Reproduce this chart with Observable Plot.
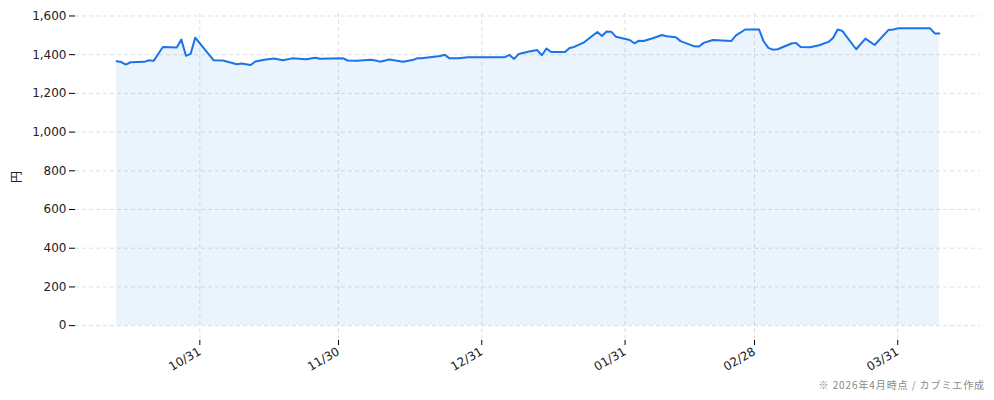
<!DOCTYPE html>
<html>
<head>
<meta charset="utf-8">
<script src="https://cdn.jsdelivr.net/npm/d3@7"></script>
<script src="https://cdn.jsdelivr.net/npm/@observablehq/plot@0.6"></script>
<style>
  html, body { margin: 0; padding: 0; background: #fff; }
  #wrap { position: relative; width: 994px; height: 400px; font-family: "Noto Sans CJK JP", "Noto Sans", sans-serif; }
  #caption { position: absolute; right: 9px; top: 377px; font-size: 10px; color: #888; letter-spacing: 0.9px; }
</style>
</head>
<body>
<div id="wrap"><div id="chart"></div><div id="caption">※ 2026年4月時点 / カブミエ作成</div></div>
<script>
const dates = [
  "2025-10-13","2025-10-14","2025-10-15","2025-10-16","2025-10-19","2025-10-20","2025-10-21","2025-10-23","2025-10-26","2025-10-27",
  "2025-10-28","2025-10-29","2025-10-30","2025-11-03","2025-11-05","2025-11-08","2025-11-09","2025-11-11","2025-11-12","2025-11-14",
  "2025-11-16","2025-11-18","2025-11-20","2025-11-23","2025-11-25","2025-11-26","2025-12-01","2025-12-02","2025-12-04","2025-12-07",
  "2025-12-08","2025-12-09","2025-12-11","2025-12-14","2025-12-16","2025-12-17","2025-12-18","2025-12-22","2025-12-23","2025-12-24",
  "2025-12-26","2025-12-28","2026-01-05","2026-01-06","2026-01-07","2026-01-08","2026-01-10","2026-01-12","2026-01-13","2026-01-14",
  "2026-01-15","2026-01-18","2026-01-19","2026-01-20","2026-01-22","2026-01-25","2026-01-26","2026-01-27","2026-01-28","2026-01-29",
  "2026-02-01","2026-02-02","2026-02-03","2026-02-04","2026-02-06","2026-02-08","2026-02-09","2026-02-11","2026-02-12","2026-02-15",
  "2026-02-16","2026-02-17","2026-02-19","2026-02-23","2026-02-24","2026-02-26","2026-03-01","2026-03-02","2026-03-03","2026-03-04",
  "2026-03-05","2026-03-08","2026-03-09","2026-03-10","2026-03-12","2026-03-14","2026-03-16","2026-03-17","2026-03-18","2026-03-19",
  "2026-03-22","2026-03-24","2026-03-26","2026-03-29","2026-03-30","2026-03-31","2026-04-07","2026-04-08","2026-04-09"
];
const prices = [
  1366,1362,1349,1361,1363,1371,1368,1440,1437,1478,
  1394,1404,1488,1371,1370,1351,1354,1347,1365,1374,
  1380,1371,1381,1376,1384,1379,1381,1370,1369,1374,
  1370,1364,1375,1363,1372,1381,1381,1393,1400,1381,
  1382,1387,1387,1399,1378,1404,1415,1424,1397,1432,
  1414,1414,1435,1440,1462,1517,1497,1520,1519,1493,
  1476,1459,1472,1471,1485,1502,1495,1490,1470,1443,
  1442,1461,1476,1471,1500,1530,1530,1468,1435,1426,
  1428,1458,1461,1440,1438,1449,1466,1486,1530,1523,
  1428,1483,1450,1528,1530,1536,1536,1510,1510
];
const xTickDates = ["2025-10-31","2025-11-30","2025-12-31","2026-01-31","2026-02-28","2026-03-31"];
const xTickLabels = ["10/31","11/30","12/31","01/31","02/28","03/31"];
const yTicks = [0,200,400,600,800,1000,1200,1400,1600];

const data = dates.map((d, i) => ({date: new Date(d), price: prices[i]}));
const xTicks = xTickDates.map(d => new Date(d));
const labelOf = new Map(xTicks.map((d, i) => [+d, xTickLabels[i]]));

const first = data[0].date, last = data[data.length - 1].date;
const span = last - first;
const yMax = d3.max(prices);
const chart = Plot.plot({
  width: 994,
  height: 400,
  marginLeft: 75,
  marginRight: 14,
  marginTop: 13,
  marginBottom: 60,
  style: {fontFamily: "'DejaVu Sans', 'Noto Sans CJK JP', sans-serif", fontSize: "12px", color: "#222", background: "#fff"},
  x: {type: "utc", domain: [new Date(+first - span * 0.05), new Date(+last + span * 0.05)]},
  y: {domain: [-yMax * 0.05, yMax * 1.05]},
  marks: [
    Plot.gridY(yTicks, {stroke: "#d5d8dc", strokeOpacity: 0.8, strokeDasharray: "4,3"}),
    Plot.gridX(xTicks, {stroke: "#d5d8dc", strokeOpacity: 0.8, strokeDasharray: "4,3"}),
    Plot.areaY(data, {x: "date", y: "price", fill: "#1a73e8", fillOpacity: 0.085, curve: "linear"}),
    Plot.lineY(data, {x: "date", y: "price", stroke: "#1a73e8", strokeWidth: 2}),
    Plot.axisY({ticks: yTicks, tickFormat: d3.format(","), tickSize: 6, tickPadding: 3, line: true, stroke: "#000",
      label: "円", labelAnchor: "center", labelArrow: "none", labelOffset: 63, fontSize: 12}),
    Plot.axisX({ticks: xTicks, tickFormat: d => labelOf.get(+d), tickRotate: -30, tickSize: 5, tickPadding: 5,
      line: true, stroke: "#000", label: null, fontSize: 12})
  ]
});
document.getElementById("chart").appendChild(chart);
</script>
</body>
</html>
